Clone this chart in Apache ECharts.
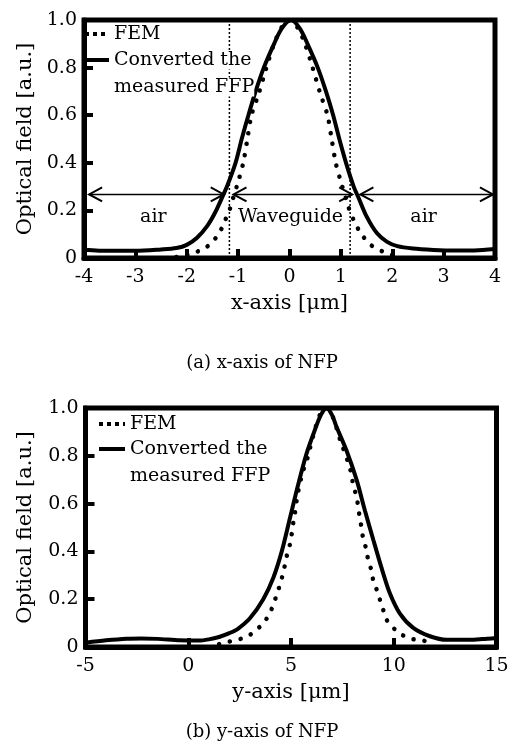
<!DOCTYPE html>
<html><head><meta charset="utf-8">
<script src="https://cdn.jsdelivr.net/npm/echarts@6/dist/echarts.min.js"></script>
<style>html,body{margin:0;padding:0;background:#fff}#c{width:514px;height:751px}</style>
</head><body><div id="c"></div><script>
const FONT = 'DejaVu Serif';

// (a) x-axis of NFP : converted measured FFP (solid)
const topConvX = [-4.0,-3.5,-3.0,-2.5,-2.2,-2.0,-1.8,-1.6,-1.45,-1.3,-1.2,-1.05,-0.93,-0.8,-0.66,-0.5,-0.3,-0.15,0.03,0.2,0.35,0.55,0.71,0.85,0.97,1.1,1.25,1.35,1.5,1.7,1.9,2.1,2.4,2.8,3.2,3.6,4.0];
const topConvY = [0.035,0.03,0.03,0.036,0.042,0.055,0.085,0.135,0.19,0.26,0.31,0.4,0.5,0.6,0.7,0.8,0.9,0.965,1.0,0.965,0.9,0.8,0.7,0.6,0.5,0.4,0.3,0.25,0.175,0.105,0.068,0.05,0.04,0.034,0.031,0.032,0.038];
// (a) FEM (dotted)
const topFemX = [-2.2,-2.05,-1.86,-1.63,-1.47,-1.34,-1.26,-1.17,-1.1,-1.0,-0.9,-0.82,-0.74,-0.6,-0.45,-0.3,-0.15,0,0.15,0.3,0.45,0.6,0.74,0.82,0.9,1.0,1.1,1.17,1.27,1.4,1.6,1.85,2.05,2.2];
const topFemY = [0.004,0.01,0.021,0.044,0.075,0.116,0.155,0.2,0.25,0.32,0.4,0.5,0.6,0.69,0.8,0.9,0.97,1.0,0.97,0.9,0.8,0.69,0.6,0.5,0.4,0.32,0.25,0.2,0.15,0.1,0.052,0.024,0.01,0.004];

// (b) y-axis of NFP : converted measured FFP (solid)
const botConvX = [-5,-4,-3,-2.3,-1.5,-0.4,0.5,1.0,1.5,2.0,2.4,3.0,3.65,4.14,4.55,4.95,5.35,5.76,6.17,6.45,6.73,7.0,7.22,7.71,8.19,8.6,9.0,9.41,9.81,10.3,10.95,11.76,12.57,13.7,14.3,15];
const botConvY = [0.018,0.028,0.035,0.036,0.034,0.028,0.027,0.032,0.042,0.058,0.075,0.12,0.2,0.29,0.4,0.54,0.68,0.81,0.91,0.97,1.0,0.97,0.92,0.82,0.7,0.57,0.45,0.33,0.225,0.14,0.08,0.045,0.03,0.03,0.033,0.038];
// (b) FEM (dotted)
const botFemX = [1.5,1.86,2.35,2.84,3.24,3.63,3.92,4.14,4.3,4.46,4.62,4.72,4.82,4.95,5.03,5.11,5.19,5.27,5.35,5.45,5.6,5.8,6.1,6.4,6.7,7.0,7.38,7.79,7.95,8.03,8.19,8.27,8.35,8.44,8.52,8.68,8.76,8.92,9.0,9.17,9.33,9.49,9.65,9.98,10.38,10.87,11.36,11.8];
const botFemY = [0.012,0.02,0.03,0.042,0.067,0.097,0.134,0.176,0.218,0.26,0.31,0.35,0.39,0.43,0.47,0.52,0.56,0.61,0.65,0.69,0.74,0.79,0.89,0.97,1.0,0.97,0.87,0.77,0.72,0.675,0.63,0.585,0.54,0.495,0.45,0.405,0.36,0.32,0.28,0.24,0.197,0.155,0.114,0.08,0.052,0.034,0.028,0.02];

// annotations of panel (a)
const dividerX = [-1.17, 1.18];
const arrowFrom = [-3.9, -1.09, 1.38];
const arrowTo = [-1.28, 1.22, 3.96];
const arrowY = 0.267;
const regionNames = ['air', 'Waveguide', 'air'];
const regionX = [-2.65, 0.02, 2.61];
const regionY = 0.172;

const captions = ['(a) x-axis of NFP', '(b) y-axis of NFP'];
const seriesNames = ['FEM', 'Converted the measured FFP'];

const zip = (a, b) => a.map((v, i) => [v, b[i]]);

const chart = echarts.init(document.getElementById('c'), null, {renderer: 'canvas'});

const tickCfg = {show: true, inside: true, length: 9, lineStyle: {color: '#000', width: 4}};

function xAxisCfg(gi, min, max, interval, name) {
  return {
    gridIndex: gi, type: 'value', min, max, interval, position: 'bottom',
    name, nameLocation: 'middle', nameGap: 35,
    nameTextStyle: {fontFamily: FONT, fontSize: 21, color: '#000'},
    axisLine: {show: true, onZero: false, lineStyle: {color: '#000', width: 5}},
    axisTick: tickCfg,
    axisLabel: {fontFamily: FONT, fontSize: 19, color: '#000', margin: 10, showMinLabel: true, showMaxLabel: true},
    splitLine: {show: false}
  };
}
function yAxisCfg(gi, gap) {
  return {
    gridIndex: gi, type: 'value', min: 0, max: 1, interval: 0.2, position: 'left',
    name: 'Optical field [a.u.]', nameLocation: 'middle', nameGap: gap,
    nameTextStyle: {fontFamily: FONT, fontSize: 21, color: '#000'},
    axisLine: {show: true, onZero: false, lineStyle: {color: '#000', width: 5}},
    axisTick: tickCfg,
    axisLabel: {fontFamily: FONT, fontSize: 19, color: '#000', margin: 7,
      formatter: v => v === 0 ? '0' : v.toFixed(1)},
    splitLine: {show: false}
  };
}
const femStyle = {color: '#000', width: 4.5, type: [0.1, 11], cap: 'round'};
const convStyle = {color: '#000', width: 4};

function legendPair(left, topFem, topConv, iw) {
  const base = {
    orient: 'vertical', left, itemWidth: iw, itemHeight: 14, padding: 0,
    selectedMode: false,
    textStyle: {fontFamily: FONT, fontSize: 19, color: '#000', lineHeight: 27}
  };
  return [
    Object.assign({}, base, {
      top: topFem,
      data: [{name: seriesNames[0], itemStyle: {opacity: 0},
        lineStyle: {color: '#000', width: 4, type: [4, 4], cap: 'butt'}}]
    }),
    Object.assign({}, base, {
      top: topConv,
      formatter: () => '{e| }\n{t|Converted the}\n{t|measured FFP}',
      textStyle: {fontFamily: FONT, fontSize: 19, color: '#000', lineHeight: 27,
        rich: {
          e: {fontFamily: FONT, fontSize: 19, lineHeight: 27},
          t: {fontFamily: FONT, fontSize: 19, lineHeight: 27, color: '#000', backgroundColor: '#fff'}
        }},
      data: [{name: seriesNames[1], itemStyle: {opacity: 0},
        lineStyle: {color: '#000', width: 4, type: 'solid'}}]
    })
  ];
}

const option = {
  animation: false,
  backgroundColor: '#fff',
  grid: [
    {left: 84, top: 20, width: 411, height: 238, show: true, borderColor: '#000', borderWidth: 5, backgroundColor: 'transparent'},
    {left: 85.5, top: 408, width: 411, height: 239, show: true, borderColor: '#000', borderWidth: 5, backgroundColor: 'transparent'}
  ],
  xAxis: [xAxisCfg(0, -4, 4, 1, 'x-axis [μm]'), xAxisCfg(1, -5, 15, 5, 'y-axis [μm]')],
  yAxis: [yAxisCfg(0, 46), yAxisCfg(1, 49)],
  legend: legendPair(83, 20.5, 19.5, 24).concat(legendPair(97, 410.5, 408.5, 26)),
  graphic: [
    {type: 'text', x: 262, y: 363, style: {text: captions[0], align: 'center', verticalAlign: 'middle', fontFamily: FONT, fontSize: 18, fill: '#000'}},
    {type: 'text', x: 262, y: 732, style: {text: captions[1], align: 'center', verticalAlign: 'middle', fontFamily: FONT, fontSize: 18, fill: '#000'}}
  ],
  series: [
    {name: seriesNames[0], type: 'line', xAxisIndex: 0, yAxisIndex: 0, data: zip(topFemX, topFemY), symbol: 'none', smooth: 0.3, lineStyle: femStyle, z: 3},
    {name: seriesNames[1], type: 'line', xAxisIndex: 0, yAxisIndex: 0, data: zip(topConvX, topConvY), symbol: 'none', smooth: 0.3, lineStyle: convStyle, z: 3},
    {name: seriesNames[0], type: 'line', xAxisIndex: 1, yAxisIndex: 1, data: zip(botFemX, botFemY), symbol: 'none', smooth: 0.3, lineStyle: femStyle, z: 3},
    {name: seriesNames[1], type: 'line', xAxisIndex: 1, yAxisIndex: 1, data: zip(botConvX, botConvY), symbol: 'none', smooth: 0.3, lineStyle: convStyle, z: 3},
    ...dividerX.map(x => ({
      name: 'divider', type: 'line', xAxisIndex: 0, yAxisIndex: 0, data: [[x, 0], [x, 1]],
      symbol: 'none', silent: true, lineStyle: {color: '#000', width: 1.5, type: [2, 2]}, z: 2
    })),
    {
      name: 'regions', type: 'custom', xAxisIndex: 0, yAxisIndex: 0, silent: true, z: 4,
      data: arrowFrom.map((f, i) => [f, arrowTo[i], arrowY, regionX[i], regionY]),
      encode: {x: [0, 1, 3], y: [2, 4]},
      renderItem: (params, api) => {
        const i = params.dataIndex;
        const p1 = api.coord([api.value(0), api.value(2)]);
        const p2 = api.coord([api.value(1), api.value(2)]);
        const lp = api.coord([api.value(3), api.value(4)]);
        const h = 13, v = 7;
        return {type: 'group', children: [
          {type: 'line', shape: {x1: p1[0], y1: p1[1], x2: p2[0], y2: p2[1]}, style: {stroke: '#000', lineWidth: 1.6}},
          {type: 'polyline', shape: {points: [[p1[0] + h, p1[1] - v], [p1[0], p1[1]], [p1[0] + h, p1[1] + v]]}, style: {stroke: '#000', fill: null, lineWidth: 2}},
          {type: 'polyline', shape: {points: [[p2[0] - h, p2[1] - v], [p2[0], p2[1]], [p2[0] - h, p2[1] + v]]}, style: {stroke: '#000', fill: null, lineWidth: 2}},
          {type: 'text', style: {text: regionNames[i], x: lp[0], y: lp[1], align: 'center', verticalAlign: 'middle', fontFamily: FONT, fontSize: 19, fill: '#000'}}
        ]};
      }
    }
  ]
};
chart.setOption(option);
</script></body></html>
